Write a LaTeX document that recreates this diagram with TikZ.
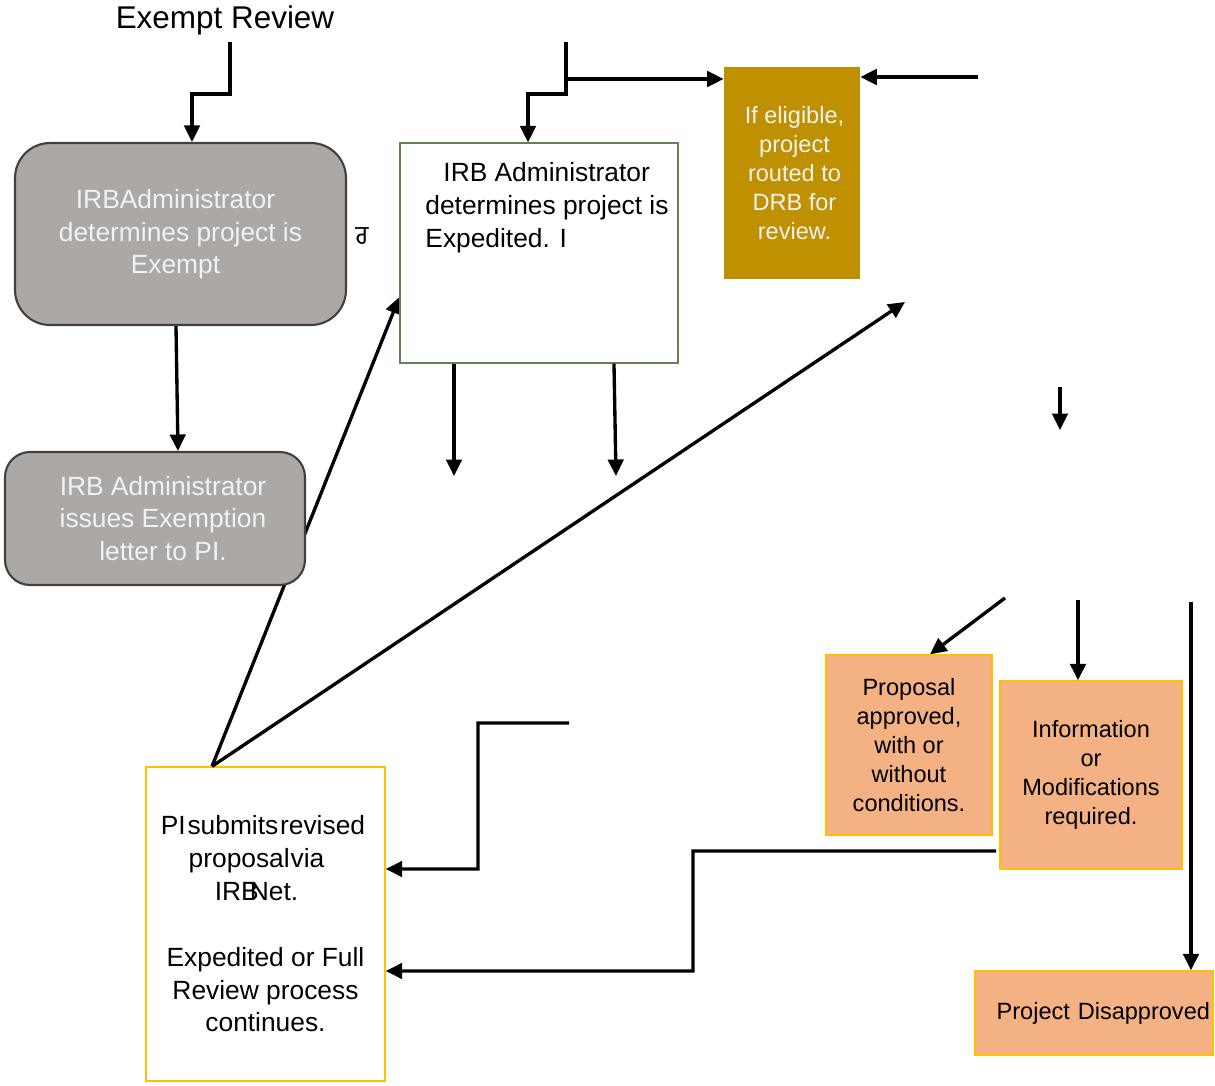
\documentclass[tikz,border=0pt]{standalone}
\usepackage{fontspec}
\setmainfont{Liberation Sans}
\newfontfamily\gurfont[Script=Gurmukhi]{Hind Jalandhar}
\usepackage{tikz}
\usetikzlibrary{arrows.meta,backgrounds}

\definecolor{boxgray}{RGB}{171,168,166}
\definecolor{edgegray}{RGB}{64,64,64}
\definecolor{paletext}{RGB}{242,242,242}
\definecolor{edgegreen}{RGB}{100,130,80}
\definecolor{drbgold}{RGB}{191,144,0}
\definecolor{outfill}{RGB}{244,177,131}
\definecolor{outedge}{RGB}{255,192,0}

\newcommand\bigtxt{\fontsize{15}{18.7}\selectfont}
\newcommand\smalltxt{\fontsize{13.4}{16.6}\selectfont}
\newcommand\ttltxt{\fontsize{17.9}{21}\selectfont}

\begin{document}
\begin{tikzpicture}[x=0.02cm,y=-0.02cm,
    graybox/.style={draw=edgegray, fill=boxgray, line width=1.2pt, text=paletext, align=center, font=\bigtxt},
    greenbox/.style={draw=edgegreen, line width=0.7pt},
    goldbox/.style={fill=drbgold, text=paletext, align=center, font=\smalltxt},
    outbox/.style={draw=outedge, fill=outfill, line width=0.8pt, align=center, font=\smalltxt},
    flow/.style={line width=1.9pt, -{Triangle[length=3.3mm,width=3.1mm]}},
    plain/.style={line width=1.9pt}]
    \useasboundingbox (0,0) rectangle (1215,1086);

    % boxes
    \node[font=\ttltxt] (ttl) at (225,20) {Exempt Review};
    \node[graybox, rounded corners=0.7cm, minimum width=6.62cm, minimum height=3.64cm, text depth=0.1cm] (exempt) at (180.5,234)
        {IRBAdministrator\hspace*{0.2cm}\\determines project is\hspace*{0.2cm}\\Exempt\hspace*{0.2cm}};
    \node[font=\bigtxt\gurfont] (mark) at (362,236) {ਰ};
    \node[graybox, rounded corners=0.5cm, minimum width=6cm, minimum height=2.66cm] (letter) at (155,518.5)
        {\hspace*{0.32cm}IRB Administrator\\\hspace*{0.32cm}issues Exemption\\\hspace*{0.32cm}letter to PI.};
    \node[greenbox, minimum width=5.56cm, minimum height=4.4cm] (expd) at (539,253) {};
    \node[align=left, inner sep=0pt, font=\bigtxt] (expdtxt) at (547,208)
        {\hspace{0.36cm}IRB Administrator\\determines project is\\Expedited. I};
    \node[goldbox, minimum width=2.72cm, minimum height=4.24cm] (drb) at (792,173)
        {\hspace*{0.1cm}If eligible,\\\hspace*{0.1cm}project\\\hspace*{0.1cm}routed to\\\hspace*{0.1cm}DRB for\\\hspace*{0.1cm}review.};
    \node[outbox, minimum width=3.32cm, minimum height=3.6cm] (approved) at (909,745)
        {Proposal\\approved,\\with or\\without\\conditions.};
    \node[outbox, minimum width=3.64cm, minimum height=3.76cm] (info) at (1091,775)
        {Information\\or\\Modifications\\required.};
    \node[outbox, minimum width=4.76cm, minimum height=1.68cm, inner xsep=0.06cm, text width=4.64cm, align=right] (disap) at (1094,1013)
        {Project Disapproved};
    \node[draw=outedge, line width=0.8pt, fill=white, minimum width=4.78cm, minimum height=6.28cm, align=center, font=\bigtxt] (pibox) at (265.5,924)
        {\hspace*{-0.1cm}PI\kern1pt submits\kern1pt revised\\\hspace*{-0.36cm}proposal\kern0.5pt via\\\hspace*{-0.36cm}IRB\kern-5pt Net.\\\mbox{}\\Expedited or Full\\Review process\\continues.};

    % free ends
    \coordinate (t0) at (230,42);
    \coordinate (e0) at (566,42);
    \coordinate (e1) at (566,79);
    \coordinate (r0) at (978,77);
    \coordinate (d1) at (454,476);
    \coordinate (d2) at (616,476);
    \coordinate (pitop) at ([xshift=-1.07cm]pibox.north);
    \coordinate (u1) at (905,302);
    \coordinate (m1) at (1060,387);
    \coordinate (m2) at (1060,430);
    \coordinate (a1) at (1005,598);
    \coordinate (b1) at (1078,600);
    \coordinate (c1) at (1191,602);
    \coordinate (s1) at (569,723);
    \coordinate (s2) at (996,851);

    % connectors
    \draw[flow] (t0) -- (230,94) -| ([xshift=0.23cm]exempt.north);
    \draw[flow] ([xshift=-0.09cm]exempt.south) -- ([xshift=0.46cm]letter.north);
    \draw[flow] (e0) -- (566,94) -| ([xshift=-0.22cm]expd.north);
    \draw[flow] (e1) -- (e1 -| drb.west);
    \draw[flow] (r0) -- (r0 -| drb.east);
    \draw[flow] (d1 |- expd.south) -- (d1);
    \draw[flow] ([xshift=1.5cm]expd.south) -- (d2);
    \begin{scope}[on background layer]
        \draw[flow] (pitop) -- ([yshift=-0.88cm]expd.west);
    \end{scope}
    \draw[flow] (pitop) -- (u1);
    \draw[flow] (m1) -- (m2);
    \draw[flow] (a1) -- ([xshift=0.42cm]approved.north);
    \draw[flow] (b1) -- (b1 |- info.north);
    \draw[flow] (c1) -- (c1 |- disap.north);
    \draw[flow] (s1) -| (478,869) -- ([yshift=1.1cm]pibox.east);
    \draw[flow] (s2) -| (693,971) -- ([yshift=-0.94cm]pibox.east);
\end{tikzpicture}
\end{document}
